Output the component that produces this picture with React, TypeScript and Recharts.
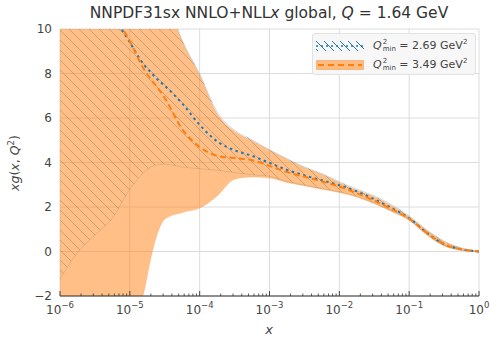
import React from 'react';
import { ComposedChart, Area, Line, XAxis, YAxis, CartesianGrid } from 'recharts';

// log10(x) sample points
const logX = [-6, -5.75, -5.5, -5.25, -5, -4.8, -4.7, -4.6, -4.5, -4.25, -4, -3.75, -3.5, -3.25, -3, -2.75, -2.5, -2.25, -2, -1.75, -1.5, -1.25, -1, -0.75, -0.5, -0.25, 0];

// Q2min = 2.69 GeV2 (blue, hatched)
const blueCentral = [15.8, 14.0, 12.3, 10.7, 9.4, 8.4, 8.05, 7.72, 7.45, 6.65, 5.69, 4.95, 4.55, 4.3, 3.98, 3.67, 3.42, 3.2, 2.98, 2.7, 2.35, 1.95, 1.5, 0.85, 0.33, 0.1, 0.0];
const blueHigh = [22, 20.5, 19, 17.5, 16, 14.5, 13.6, 12.6, 11.7, 9.5, 7.98, 6.28, 5.45, 5.02, 4.57, 4.17, 3.8, 3.5, 3.14, 2.8, 2.5, 2.1, 1.6, 0.98, 0.47, 0.16, 0.03];
const blueLow = [-1.25, -0.05, 0.74, 1.5, 2.8, 3.55, 3.8, 3.9, 3.92, 3.8, 3.72, 3.65, 3.55, 3.45, 3.38, 3.15, 2.98, 2.83, 2.68, 2.48, 2.18, 1.82, 1.42, 0.77, 0.27, 0.06, -0.01];

// Q2min = 3.49 GeV2 (orange, filled)
const orangeCentral = [15.6, 13.9, 12.3, 10.8, 9.45, 8.2, 7.75, 7.35, 6.9, 5.5, 4.7, 4.3, 4.2, 4.1, 3.85, 3.57, 3.36, 3.15, 2.92, 2.62, 2.28, 1.9, 1.48, 0.85, 0.33, 0.1, 0.0];
const orangeHigh = [22, 20.5, 19, 17.5, 16, 14.5, 13.6, 12.6, 11.6, 9.45, 7.93, 6.2, 5.4, 4.98, 4.55, 4.15, 3.77, 3.47, 3.1, 2.76, 2.46, 2.06, 1.56, 0.95, 0.45, 0.15, 0.02];
const orangeLow = [-5, -4.6, -4.2, -3.8, -3.2, -1.85, -0.3, 0.85, 1.45, 1.75, 1.95, 2.5, 3.25, 3.35, 3.3, 3.1, 2.95, 2.8, 2.65, 2.45, 2.15, 1.8, 1.4, 0.75, 0.25, 0.05, -0.02];

const majorTicks = [1e-6, 1e-5, 1e-4, 1e-3, 1e-2, 1e-1, 1];
const majorExp = ['\u22126', '\u22125', '\u22124', '\u22123', '\u22122', '\u22121', '0'];
const minorMult = [2, 3, 4, 5, 6, 7, 8, 9];
const yTicks = [-2, 0, 2, 4, 6, 8, 10];

const minorTicks: number[] = [];
majorTicks.slice(0, -1).forEach((d) => minorMult.forEach((m) => minorTicks.push(m * d)));
const allTicks = [...majorTicks, ...minorTicks].sort((a, b) => a - b);

const data = logX.map((l, i) => ({
  x: Math.pow(10, l),
  blueBand: [blueLow[i], blueHigh[i]],
  orangeBand: [orangeLow[i], orangeHigh[i]],
  blueCentral: blueCentral[i],
  orangeCentral: orangeCentral[i],
}));

const FONT = '"DejaVu Sans", sans-serif';
const BLUE = '#1f77b4';
const ORANGE = '#ff7f0e';

const XTick = (props: any) => {
  const { x, y, payload } = props;
  const idx = majorTicks.indexOf(payload.value);
  if (idx < 0) {
    return <line x1={x} x2={x} y1={y} y2={y - 2.5} stroke="#333" strokeWidth={0.8} />;
  }
  return (
    <g>
      <line x1={x} x2={x} y1={y} y2={y - 5} stroke="#333" strokeWidth={0.9} />
      <text x={x} y={y + 18} textAnchor="middle" fontSize={12} fill="#444" fontFamily={FONT}>
        <tspan>10</tspan>
        <tspan dy={-6} fontSize={8.5}>{majorExp[idx]}</tspan>
      </text>
    </g>
  );
};

const Qmin = ({ value }: { value: string }) => (
  <span style={{ whiteSpace: 'nowrap' }}>
    <i>Q</i>
    <span style={{ display: 'inline-flex', flexDirection: 'column', fontSize: 7, lineHeight: '7px', verticalAlign: 'middle', marginLeft: 1 }}>
      <span>2</span>
      <span>min</span>
    </span>
    {' = ' + value + ' GeV'}
    <sup style={{ fontSize: 7 }}>2</sup>
  </span>
);

const LegendBox = () => (
  <div
    style={{
      position: 'absolute', left: 312, top: 33, width: 164, height: 42, boxSizing: 'border-box',
      background: 'rgba(246,246,246,0.92)', border: '1px solid #e2e2e2', borderRadius: 3,
      fontFamily: FONT, fontSize: 11, color: '#444',
    }}
  >
    <div style={{ display: 'flex', alignItems: 'center', height: 19, marginTop: 2 }}>
      <svg width={48} height={10} style={{ marginLeft: 3, marginRight: 9 }}>
        <defs>
          <pattern id="hatchLegend" patternUnits="userSpaceOnUse" width={8} height={8}>
            <path d="M0,0 L8,8 M-2,6 L2,10 M6,-2 L10,2" stroke={BLUE} strokeWidth={1} />
          </pattern>
        </defs>
        <rect x={0} y={0} width={48} height={10} fill="url(#hatchLegend)" />
        <line x1={0} x2={48} y1={5} y2={5} stroke={BLUE} strokeWidth={1.6} strokeDasharray="2 3" />
      </svg>
      <Qmin value="2.69" />
    </div>
    <div style={{ display: 'flex', alignItems: 'center', height: 19 }}>
      <svg width={48} height={10} style={{ marginLeft: 3, marginRight: 9 }}>
        <rect x={0.5} y={0.5} width={47} height={9} fill={ORANGE} fillOpacity={0.5} stroke={ORANGE} strokeOpacity={0.4} />
        <line x1={2} x2={46} y1={5} y2={5} stroke={ORANGE} strokeWidth={1.8} strokeDasharray="6 4" />
      </svg>
      <Qmin value="3.49" />
    </div>
  </div>
);

export default function App() {
  return (
    <div style={{ position: 'absolute', left: 0, top: 0, width: 490, height: 338, background: '#fff', fontFamily: FONT }}>
      <ComposedChart width={490} height={338} data={data} margin={{ top: 29, right: 11, left: 0, bottom: 0 }}>
        <defs>
          <pattern id="hatch" patternUnits="userSpaceOnUse" width={10} height={10}>
            <path d="M0,0 L10,10 M-3,7 L3,13 M7,-3 L13,3" stroke={BLUE} strokeOpacity={0.5} strokeWidth={0.9} />
          </pattern>
        </defs>
        <CartesianGrid stroke="#dcdcdc" strokeWidth={1} verticalValues={majorTicks} horizontalValues={yTicks} />
        <XAxis
          dataKey="x"
          type="number"
          scale="log"
          domain={[1e-6, 1]}
          allowDataOverflow
          ticks={allTicks}
          interval={0}
          tick={<XTick />}
          tickLine={false}
          tickSize={0}
          tickMargin={0}
          height={42}
          axisLine={{ stroke: '#333', strokeWidth: 1 }}
        />
        <YAxis
          type="number"
          domain={[-2, 10]}
          allowDataOverflow
          ticks={yTicks}
          width={60}
          tickLine={false}
          axisLine={false}
          tickSize={0}
          tickMargin={8}
          tick={{ fontSize: 12, fill: '#444', fontFamily: FONT }}
          tickFormatter={(v: number) => (v < 0 ? '\u2212' + Math.abs(v) : String(v))}
        />
        <Area
          type="monotone"
          dataKey="blueBand"
          fill="url(#hatch)"
          fillOpacity={1}
          stroke={BLUE}
          strokeOpacity={0.3}
          strokeWidth={0.8}
          isAnimationActive={false}
        />
        <Area
          type="monotone"
          dataKey="orangeBand"
          fill={ORANGE}
          fillOpacity={0.5}
          stroke={ORANGE}
          strokeOpacity={0.25}
          strokeWidth={0.8}
          isAnimationActive={false}
        />
        <Line
          type="monotone"
          dataKey="blueCentral"
          stroke={BLUE}
          strokeWidth={2}
          strokeDasharray="2.5 3.5"
          dot={false}
          isAnimationActive={false}
        />
        <Line
          type="monotone"
          dataKey="orangeCentral"
          stroke={ORANGE}
          strokeWidth={2}
          strokeDasharray="6 3.5"
          dot={false}
          isAnimationActive={false}
        />
      </ComposedChart>
      <svg width={490} height={338} style={{ position: 'absolute', left: 0, top: 0, pointerEvents: 'none' }}>
        <text x={269} y={18} textAnchor="middle" fontSize={15.5} fill="#333" fontFamily={FONT}>
          NNPDF31sx NNLO+NLL<tspan fontStyle="italic">x</tspan> global, <tspan fontStyle="italic">Q</tspan> = 1.64 GeV
        </text>
        <text x={269} y={334} textAnchor="middle" fontSize={13} fill="#444" fontFamily={FONT} fontStyle="italic">
          x
        </text>
        <text transform="translate(19,163) rotate(-90)" textAnchor="middle" fontSize={12.5} fill="#444" fontFamily={FONT}>
          <tspan fontStyle="italic">xg</tspan>(<tspan fontStyle="italic">x</tspan>, <tspan fontStyle="italic">Q</tspan>
          <tspan dy={-5} fontSize={8.5}>2</tspan>
          <tspan dy={5}>)</tspan>
        </text>
      </svg>
      <LegendBox />
    </div>
  );
}
